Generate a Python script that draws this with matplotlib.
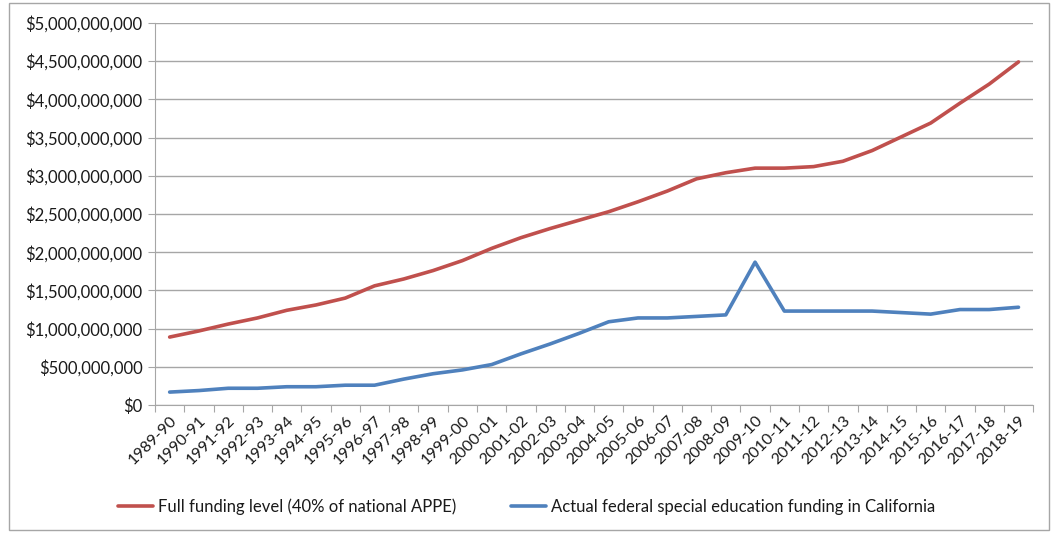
import matplotlib
matplotlib.use("Agg")
import matplotlib.pyplot as plt
from matplotlib.ticker import FuncFormatter, MultipleLocator
from matplotlib.patches import Rectangle
import numpy as np

# school years on the x axis
years = ["1989-90", "1990-91", "1991-92", "1992-93", "1993-94", "1994-95",
         "1995-96", "1996-97", "1997-98", "1998-99", "1999-00", "2000-01",
         "2001-02", "2002-03", "2003-04", "2004-05", "2005-06", "2006-07",
         "2007-08", "2008-09", "2009-10", "2010-11", "2011-12", "2012-13",
         "2013-14", "2014-15", "2015-16", "2016-17", "2017-18", "2018-19"]

# full funding level (40% of national APPE), dollars
full_funding = [0.89e9, 0.97e9, 1.06e9, 1.14e9, 1.24e9, 1.31e9, 1.40e9, 1.56e9,
                1.65e9, 1.76e9, 1.89e9, 2.05e9, 2.19e9, 2.31e9, 2.42e9, 2.53e9,
                2.66e9, 2.80e9, 2.96e9, 3.04e9, 3.10e9, 3.10e9, 3.12e9, 3.19e9,
                3.33e9, 3.51e9, 3.69e9, 3.95e9, 4.20e9, 4.49e9]

# actual federal special education funding in California, dollars
actual_funding = [0.17e9, 0.19e9, 0.22e9, 0.22e9, 0.24e9, 0.24e9, 0.26e9, 0.26e9,
                  0.34e9, 0.41e9, 0.46e9, 0.53e9, 0.67e9, 0.80e9, 0.94e9, 1.09e9,
                  1.14e9, 1.14e9, 1.16e9, 1.18e9, 1.87e9, 1.23e9, 1.23e9, 1.23e9,
                  1.23e9, 1.21e9, 1.19e9, 1.25e9, 1.25e9, 1.28e9]

plt.rcParams["font.family"] = ["Lato", "DejaVu Sans"]

fig = plt.figure(figsize=(10.51, 5.33), dpi=100)
ax = fig.add_axes([0.1475, 0.240, 0.8355, 0.717])

x = np.arange(len(years))
ax.plot(x, full_funding, color="#C0504D", lw=2.6, solid_capstyle="round",
        label="Full funding level (40% of national APPE)")
ax.plot(x, actual_funding, color="#4F81BD", lw=2.6, solid_capstyle="round",
        label="Actual federal special education funding in California")

ax.set_xlim(-0.5, len(years) - 0.5)
ax.set_ylim(0, 5e9)
ax.yaxis.set_major_locator(MultipleLocator(5e8))
ax.yaxis.set_major_formatter(FuncFormatter(lambda v, p: "${:,.0f}".format(v)))
ax.grid(axis="y", color="#A6A6A6", lw=1)
ax.set_axisbelow(True)

# ticks between categories, labels at the centres
ax.set_xticks(np.arange(len(years) + 1) - 0.5)
ax.set_xticklabels([])
ax.set_xticks(x, minor=True)
ax.set_xticklabels(years, minor=True, rotation=45, ha="right",
                   rotation_mode="anchor", fontsize=11.5, color="#1a1a1a")
ax.tick_params(axis="x", which="minor", length=0, pad=6)
ax.tick_params(axis="x", which="major", length=5, color="#A6A6A6")
ax.tick_params(axis="y", length=5, color="#A6A6A6", labelsize=12,
               labelcolor="#1a1a1a", pad=4)

for side in ["top", "right"]:
    ax.spines[side].set_visible(False)
for side in ["left", "bottom"]:
    ax.spines[side].set_color("#A6A6A6")

ax.legend(loc="center left", bbox_to_anchor=(118 / 1051, 1 - 507 / 533),
          bbox_transform=fig.transFigure, borderpad=0, borderaxespad=0,
          ncol=2, frameon=False, fontsize=12, handlelength=2.1,
          columnspacing=3.3, handletextpad=0.3, labelcolor="#1a1a1a")

# outer chart border
fig.patches.append(Rectangle((0.009, 0.006), 0.989, 0.988, transform=fig.transFigure,
                             fill=False, edgecolor="#A6A6A6", lw=1))

fig.savefig("out.png", dpi=100)
